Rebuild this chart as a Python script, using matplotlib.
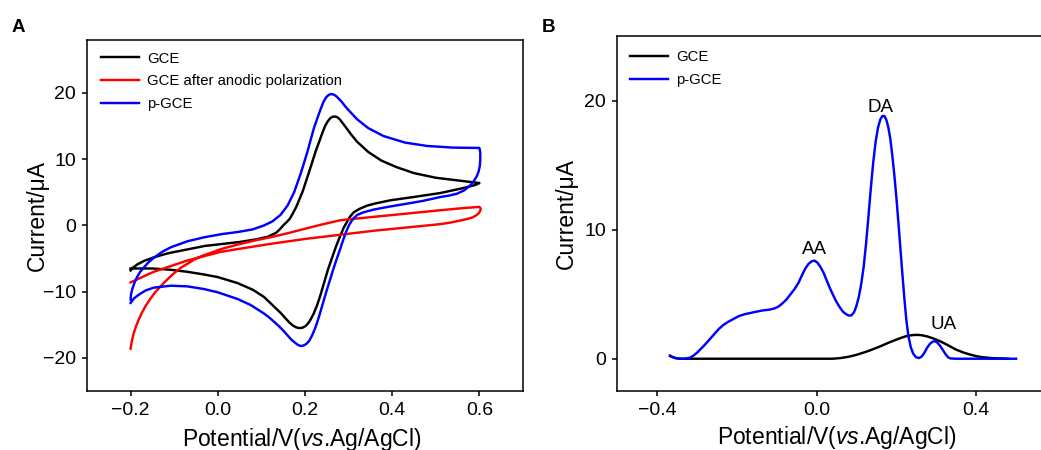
import matplotlib
matplotlib.use("Agg")
import matplotlib.pyplot as plt

plt.rcParams['font.family'] = ['Liberation Sans', 'DejaVu Sans']
plt.rcParams['mathtext.fontset'] = 'custom'
plt.rcParams['mathtext.rm'] = 'Liberation Sans'
plt.rcParams['mathtext.it'] = 'Liberation Sans:italic'

# ---------------- Panel A : cyclic voltammograms ----------------
gce_cv_v = [-0.200, -0.195, -0.185, -0.169, -0.146, -0.114, -0.068, -0.030, 0.010, 0.050,
            0.088, 0.115, 0.134, 0.142, 0.150, 0.158, 0.165, 0.172, 0.180, 0.195,
            0.210, 0.225, 0.234, 0.240, 0.246, 0.252, 0.258, 0.263, 0.269, 0.274,
            0.280, 0.287, 0.295, 0.305, 0.320, 0.345, 0.375, 0.410, 0.450, 0.500,
            0.550, 0.600,
            0.590, 0.560, 0.511, 0.450, 0.396, 0.360, 0.343, 0.325, 0.312, 0.303,
            0.296, 0.289, 0.280, 0.271, 0.262, 0.253, 0.244, 0.236, 0.228, 0.220,
            0.213, 0.207, 0.201, 0.194, 0.187, 0.180, 0.172, 0.164, 0.155, 0.144,
            0.125, 0.106, 0.080, 0.045, 0.000, -0.032, -0.070, -0.108, -0.150, -0.200]
gce_cv_i = [-6.8, -6.4, -5.9, -5.35, -4.8, -4.2, -3.6, -3.1, -2.8, -2.5,
            -2.1, -1.7, -1.1, -0.6, 0.0, 0.5, 1.0, 1.8, 2.8, 5.2,
            8.2, 11.3, 12.9, 14.0, 15.0, 15.7, 16.2, 16.4, 16.45, 16.35,
            16.0, 15.4, 14.7, 13.8, 12.6, 11.1, 9.8, 8.8, 7.9, 7.2,
            6.8, 6.4,
            6.1, 5.6, 4.9, 4.3, 3.8, 3.3, 3.0, 2.5, 2.0, 1.3,
            0.5, -0.3, -1.7, -3.2, -4.9, -6.6, -8.6, -10.4, -12.0, -13.3,
            -14.2, -14.8, -15.2, -15.45, -15.5, -15.4, -15.1, -14.65, -14.0, -13.2,
            -12.0, -10.8, -9.7, -8.7, -7.8, -7.4, -7.0, -6.7, -6.5, -6.5]

polar_cv_v = [-0.200, -0.197, -0.193, -0.188, -0.182, -0.175, -0.165, -0.155, -0.145, -0.130,
              -0.115, -0.100, -0.085, -0.070, -0.050, -0.032, -0.010, 0.006, 0.045, 0.083,
              0.120, 0.159, 0.200, 0.236, 0.282, 0.358, 0.435, 0.511, 0.560, 0.600,
              0.603, 0.602, 0.598, 0.592, 0.584, 0.570, 0.557, 0.535, 0.511, 0.435,
              0.358, 0.282, 0.205, 0.129, 0.052, 0.006, -0.070, -0.147, -0.200]
polar_cv_i = [-18.6, -17.4, -16.3, -15.3, -14.3, -13.3, -12.1, -11.1, -10.2, -9.1,
              -8.1, -7.2, -6.4, -5.8, -5.0, -4.5, -4.0, -3.6, -2.9, -2.3,
              -1.8, -1.2, -0.5, 0.1, 0.8, 1.3, 1.8, 2.3, 2.6, 2.8,
              2.55, 2.2, 1.8, 1.5, 1.2, 0.95, 0.75, 0.45, 0.2, -0.3,
              -0.8, -1.4, -2.0, -2.7, -3.5, -4.0, -5.3, -7.0, -8.6]

pgce_cv_v = [-0.200, -0.199, -0.196, -0.192, -0.186, -0.178, -0.169, -0.158, -0.147, -0.128,
             -0.108, -0.070, -0.032, 0.010, 0.045, 0.080, 0.106, 0.125, 0.144, 0.160,
             0.175, 0.190, 0.205, 0.220, 0.230, 0.236, 0.242, 0.248, 0.254, 0.260,
             0.266, 0.272, 0.278, 0.285, 0.292, 0.300, 0.320, 0.345, 0.380, 0.430,
             0.480, 0.540, 0.600,
             0.602, 0.602, 0.601, 0.598, 0.593, 0.586, 0.577, 0.565, 0.549, 0.530,
             0.511, 0.470, 0.435, 0.390, 0.358, 0.335, 0.320, 0.312, 0.306, 0.300,
             0.294, 0.287, 0.280, 0.272, 0.264, 0.256, 0.248, 0.240, 0.232, 0.224,
             0.217, 0.210, 0.203, 0.196, 0.190, 0.184, 0.177, 0.168, 0.160, 0.152,
             0.140, 0.130, 0.118, 0.106, 0.075, 0.045, 0.000, -0.032, -0.070, -0.108,
             -0.147, -0.165, -0.180, -0.192, -0.200]
pgce_cv_i = [-11.2, -10.4, -9.6, -8.8, -7.9, -7.0, -6.3, -5.5, -4.9, -4.0,
             -3.3, -2.4, -1.8, -1.3, -1.0, -0.6, 0.0, 0.6, 1.6, 3.0,
             5.0, 7.8, 11.0, 14.6, 16.5, 17.6, 18.6, 19.3, 19.7, 19.85,
             19.75, 19.5, 19.1, 18.6, 18.0, 17.4, 16.0, 14.7, 13.5, 12.5,
             12.0, 11.75, 11.7,
             11.0, 10.0, 9.0, 8.1, 7.3, 6.6, 5.9, 5.3, 4.8, 4.5,
             4.3, 3.7, 3.3, 2.8, 2.4, 2.0, 1.6, 1.1, 0.6, -0.1,
             -1.0, -2.3, -3.7, -5.2, -6.8, -8.5, -10.2, -12.0, -13.8, -15.4,
             -16.5, -17.4, -17.9, -18.15, -18.2, -18.05, -17.7, -17.2, -16.6, -16.0,
             -15.2, -14.6, -13.9, -13.3, -12.0, -11.1, -10.1, -9.6, -9.2, -9.1,
             -9.4, -9.8, -10.4, -11.0, -11.7]

cv_labels = ['GCE', 'GCE after anodic polarization', 'p-GCE']
cv_colors = ['#000000', '#ff0000', '#0000ff']

# ---------------- Panel B : DPV ----------------
gce_dpv_v = [-0.367, -0.360, -0.352, -0.340, 0.040, 0.060, 0.080, 0.100, 0.130, 0.159,
             0.185, 0.210, 0.225, 0.240, 0.252, 0.264, 0.278, 0.290, 0.310, 0.326,
             0.350, 0.368, 0.384, 0.400, 0.415, 0.435, 0.451, 0.480]
gce_dpv_i = [0.2, 0.12, 0.04, 0.0, 0.0, 0.05, 0.15, 0.3, 0.6, 0.95,
             1.3, 1.6, 1.75, 1.83, 1.85, 1.82, 1.72, 1.6, 1.35, 1.1,
             0.7, 0.48, 0.33, 0.2, 0.12, 0.06, 0.03, 0.0]

pgce_dpv_v = [-0.367, -0.362, -0.355, -0.345, -0.330, -0.317, -0.308, -0.300, -0.292, -0.284,
              -0.275, -0.265, -0.255, -0.245, -0.234, -0.222, -0.210, -0.195, -0.180, -0.165,
              -0.150, -0.133, -0.118, -0.105, -0.095, -0.085, -0.075, -0.065, -0.055, -0.045,
              -0.036, -0.028, -0.020, -0.012, -0.005, 0.002, 0.009, 0.017, 0.025, 0.033,
              0.042, 0.050, 0.059, 0.066, 0.072, 0.080, 0.087, 0.094, 0.100, 0.106,
              0.112, 0.118, 0.124, 0.130, 0.136, 0.142, 0.148, 0.154, 0.160, 0.165,
              0.170, 0.175, 0.180, 0.185, 0.190, 0.195, 0.200, 0.205, 0.210, 0.215,
              0.220, 0.225, 0.230, 0.236, 0.242, 0.249, 0.257, 0.264, 0.270, 0.277,
              0.284, 0.291, 0.297, 0.303, 0.310, 0.317, 0.324, 0.330, 0.336, 0.350,
              0.500]
pgce_dpv_i = [0.25, 0.15, 0.06, 0.0, 0.0, 0.08, 0.25, 0.45, 0.7, 0.95,
              1.25, 1.6, 1.95, 2.3, 2.6, 2.85, 3.05, 3.3, 3.45, 3.55,
              3.65, 3.75, 3.8, 3.9, 4.05, 4.3, 4.6, 5.0, 5.4, 5.9,
              6.5, 7.0, 7.35, 7.55, 7.6, 7.45, 7.15, 6.7, 6.1, 5.5,
              4.9, 4.4, 3.95, 3.65, 3.5, 3.35, 3.35, 3.6, 4.1, 4.8,
              5.8, 7.1, 8.9, 11.0, 13.2, 15.2, 16.8, 17.9, 18.55, 18.8,
              18.8, 18.5, 17.9, 17.0, 15.7, 14.2, 12.5, 10.6, 8.6, 6.6,
              4.7, 3.0, 1.8, 0.9, 0.4, 0.12, 0.05, 0.18, 0.45, 0.85,
              1.15, 1.32, 1.36, 1.25, 0.98, 0.65, 0.32, 0.1, 0.02, 0.0,
              0.0]

dpv_labels = ['GCE', 'p-GCE']
dpv_colors = ['#000000', '#0000ff']

peak_names = ['AA', 'DA', 'UA']
peak_pos_v = [-0.006, 0.161, 0.318]
peak_pos_i = [8.5, 19.5, 2.64]

W, H = 1041, 450
fig = plt.figure(figsize=(W / 100, H / 100), dpi=100)

def frac(l, t, r, b):
    return [l / W, 1 - b / H, (r - l) / W, (b - t) / H]

axA = fig.add_axes(frac(87, 40, 523, 391))
axB = fig.add_axes(frac(617, 36, 1056, 391))

lw = 1.75
for v, i, lab, col in zip([gce_cv_v, polar_cv_v, pgce_cv_v],
                          [gce_cv_i, polar_cv_i, pgce_cv_i], cv_labels, cv_colors):
    axA.plot(v, i, color=col, lw=lw, label=lab, solid_joinstyle='round')

for v, i, lab, col in zip([gce_dpv_v, pgce_dpv_v], [gce_dpv_i, pgce_dpv_i],
                          dpv_labels, dpv_colors):
    axB.plot(v, i, color=col, lw=lw, label=lab, solid_joinstyle='round')

for name, x, y in zip(peak_names, peak_pos_v, peak_pos_i):
    axB.text(x, y, name, ha='center', va='center', fontsize=13.5)

axA.set_xlim(-0.3, 0.7)
axA.set_ylim(-25, 28)
axA.set_xticks([-0.2, 0.0, 0.2, 0.4, 0.6])
axA.set_yticks([-20, -10, 0, 10, 20])

axB.set_xlim(-0.5, 0.6)
axB.set_ylim(-2.5, 25)
axB.set_xticks([-0.4, 0.0, 0.4])
axB.set_yticks([0, 10, 20])

xlab = r'Potential/V($\mathit{vs}$.Ag/AgCl)'
for ax in (axA, axB):
    for s in ax.spines.values():
        s.set_linewidth(1.1)
    ax.tick_params(direction='out', length=3.8, width=1.1, labelsize=14, pad=4,
                   top=False, right=False)
    ax.set_xlabel(xlab, fontsize=16.5)
    ax.set_ylabel('Current/\u03bcA', fontsize=16.5)

axA.xaxis.set_label_coords(0.4924, -0.10)
axA.yaxis.set_label_coords(-0.087, 0.5)
axB.xaxis.set_label_coords(0.4995, -0.093)
axB.yaxis.set_label_coords(-0.089, 0.5)

axA.legend(loc='upper left', bbox_to_anchor=(0.0314, 0.967), frameon=False,
           fontsize=10.7, handlelength=2.55, handletextpad=0.55, labelspacing=0.6,
           borderaxespad=0, borderpad=0)
axB.legend(loc='upper left', bbox_to_anchor=(0.0296, 0.961), frameon=False,
           fontsize=10.7, handlelength=2.55, handletextpad=0.55, labelspacing=0.62,
           borderaxespad=0, borderpad=0)

fig.text(11.7 / W, 1 - 31.7 / H, 'A', fontsize=13.5, fontweight='bold', ha='left', va='baseline')
fig.text(541.7 / W, 1 - 31.7 / H, 'B', fontsize=13.5, fontweight='bold', ha='left', va='baseline')

fig.savefig('out.png', dpi=100)
